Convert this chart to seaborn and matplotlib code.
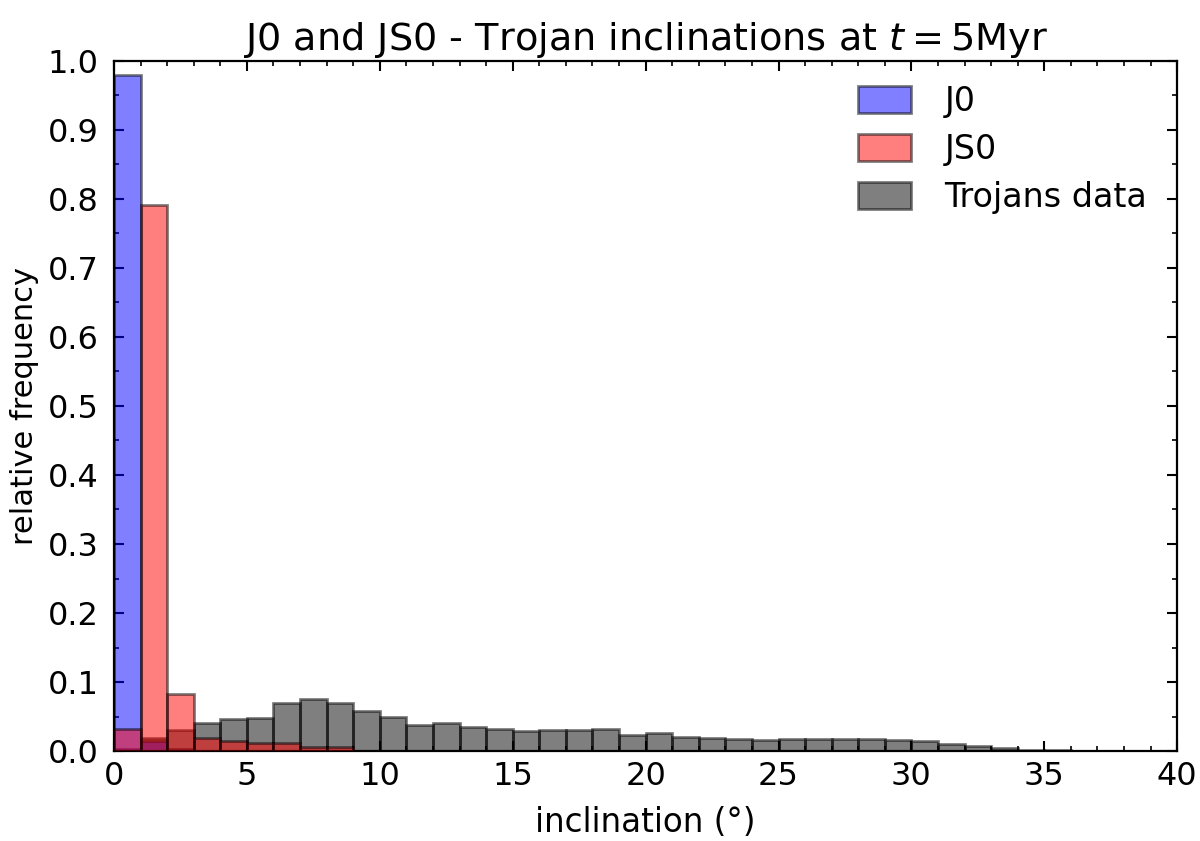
import numpy as np
import pandas as pd
import matplotlib
matplotlib.use("Agg")
import matplotlib.pyplot as plt
import seaborn as sns
from matplotlib.ticker import MultipleLocator
from matplotlib.patches import Patch

# Bin edges (1 degree wide) and relative frequencies per bin
bin_edges = list(range(0, 41))
j0_freq = [0.980, 0.014, 0.003]
js0_freq = [0.032, 0.792, 0.083, 0.019, 0.015, 0.011, 0.011, 0.006, 0.006]
trojan_freq = [0.003, 0.019, 0.031, 0.041, 0.047, 0.048, 0.070, 0.075, 0.070,
               0.058, 0.049, 0.038, 0.040, 0.035, 0.0315, 0.0286, 0.031, 0.031,
               0.032, 0.0238, 0.0267, 0.0209, 0.0194, 0.018, 0.016, 0.018,
               0.017, 0.017, 0.0175, 0.0155, 0.0145, 0.0097, 0.0068, 0.0049,
               0.002, 0.001, 0.0005]
series_labels = ["J0", "JS0", "Trojans data"]
series_colors = ["blue", "red", "black"]
title_text = r"J0 and JS0 - Trojan inclinations at $t = 5$Myr"
xlabel_text = "inclination (°)"
ylabel_text = "relative frequency"


def to_frame(freqs):
    centers = [bin_edges[i] + 0.5 for i in range(len(freqs))]
    return pd.DataFrame({"inc": centers, "w": freqs})


sns.set_style("ticks")
plt.rcParams["font.family"] = ["DejaVu Sans"]
plt.rcParams.update({
    "text.color": "black", "axes.labelcolor": "black",
    "xtick.color": "black", "ytick.color": "black",
    "axes.edgecolor": "black",
    "xtick.direction": "in", "ytick.direction": "in",
    "xtick.top": True, "ytick.right": True,
    "xtick.major.size": 7, "ytick.major.size": 7,
    "xtick.minor.size": 3.5, "ytick.minor.size": 3.5,
    "xtick.major.width": 1.5, "ytick.major.width": 1.5,
    "xtick.minor.width": 1.2, "ytick.minor.width": 1.2,
    "axes.linewidth": 1.6,
})

fig, ax = plt.subplots(figsize=(12, 8.41), dpi=100)
fig.subplots_adjust(left=0.095, right=0.981, top=0.9275, bottom=0.107)

edge_rgba = (0, 0, 0, 0.5)
series = [j0_freq, js0_freq, trojan_freq]
zorders = [2, 3, 1]
for freqs, col, z in zip(series, series_colors, zorders):
    sns.histplot(data=to_frame(freqs), x="inc", weights="w", bins=bin_edges,
                 stat="count", color=col, alpha=0.5, edgecolor=edge_rgba,
                 linewidth=2, ax=ax, zorder=z)

ax.set_xlim(0, 40)
ax.set_ylim(0, 1.0)
ax.xaxis.set_major_locator(MultipleLocator(5))
ax.xaxis.set_minor_locator(MultipleLocator(1))
ax.yaxis.set_major_locator(MultipleLocator(0.1))
ax.yaxis.set_minor_locator(MultipleLocator(0.05))
ax.tick_params(which="both", direction="in", top=True, right=True,
               labelsize=23)
ax.tick_params(axis="y", which="major", pad=11)
ax.tick_params(axis="x", which="major", pad=7)

ax.set_title(title_text, fontsize=27.5, pad=8)
ax.set_xlabel(xlabel_text, fontsize=23.5, labelpad=10)
ax.set_ylabel(ylabel_text, fontsize=22, labelpad=6)

handles = [Patch(facecolor=matplotlib.colors.to_rgba(c, 0.5),
                 edgecolor=edge_rgba, linewidth=2)
           for c in series_colors]
ax.legend(handles, series_labels, loc="upper right", frameon=False,
          fontsize=24, handlelength=1.6, handleheight=0.85,
          labelspacing=0.45, handletextpad=1.0, borderaxespad=0.5,
          bbox_to_anchor=(1.0, 1.009))

fig.savefig("out.png", dpi=100)
